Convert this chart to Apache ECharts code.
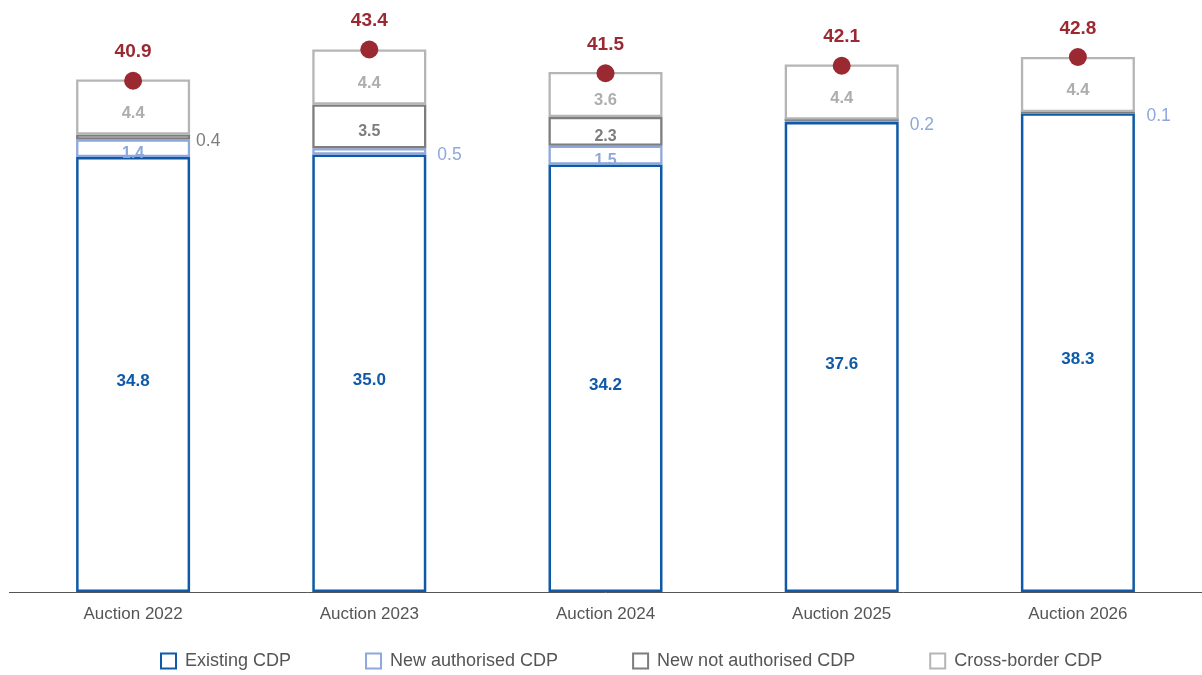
<!DOCTYPE html>
<html>
<head>
<meta charset="utf-8">
<script src="https://cdn.jsdelivr.net/npm/echarts@6/dist/echarts.min.js"></script>
<style>html,body{margin:0;padding:0;background:#fff}#c{width:1202px;height:675px}</style>
</head>
<body>
<div id="c"></div>
<script>
var categories = ['Auction 2022', 'Auction 2023', 'Auction 2024', 'Auction 2025', 'Auction 2026'];
var existing = [34.8, 35.0, 34.2, 37.6, 38.3];
var newAuth = [1.4, 0.5, 1.5, 0.2, 0.1];
var newNotAuth = [0.4, 3.5, 2.3, 0, 0];
var crossBorder = [4.4, 4.4, 3.6, 4.4, 4.4];
var totals = [40.9, 43.4, 41.5, 42.1, 42.8];

var FONT = 'Liberation Sans, Arial, sans-serif';
var C_EX = '#0f5aa8', C_NA = '#8ea7dc', C_NN = '#7d7d7d', C_CB = '#b5b5b5', C_TOT = '#9b2932';

function smallLabelData(vals, color, threshold, dist) {
  return vals.map(function (v) {
    if (v === 0) return { value: v, label: { show: false } };
    if (v < threshold) {
      return { value: v, label: { show: true, position: 'right', distance: dist, offset: [0, 4], color: color, fontWeight: 'normal', fontSize: 17.5 } };
    }
    return { value: v, label: { show: true, position: 'inside', offset: [0, 5], color: color, fontWeight: 'bold', fontSize: 16 } };
  });
}

function barSeries(name, data, color, labelColor, bw, fs, off) {
  return {
    name: name, type: 'bar', stack: 'a', barWidth: 114,
    itemStyle: { color: '#ffffff', borderColor: color, borderWidth: bw || 2.3, opacity: 1 },
    label: { show: true, position: 'inside', offset: [0, off || 6], color: labelColor, fontWeight: 'bold', fontSize: fs || 16.5, fontFamily: FONT,
      formatter: function (p) { return p.value.toFixed(1); } },
    data: data,
    emphasis: { disabled: true }
  };
}

var chart = echarts.init(document.getElementById('c'), null, { renderer: 'canvas' });
chart.setOption({
  animation: false,
  textStyle: { fontFamily: FONT },
  grid: { left: 15, right: 6, top: 17, bottom: 83, containLabel: false },
  xAxis: {
    type: 'category', data: categories,
    axisLine: { show: false },
    axisTick: { show: false },
    axisLabel: { color: '#555555', fontSize: 17, margin: 14, fontFamily: FONT }
  },
  yAxis: { type: 'value', min: 0, max: 46, show: false, splitLine: { show: false } },
  legend: {
    data: ['Existing CDP', 'New authorised CDP', 'New not authorised CDP', 'Cross-border CDP'],
    bottom: 0, left: 155, itemWidth: 15, itemHeight: 15, itemGap: 74,
    icon: 'rect',
    textStyle: { color: '#555555', fontSize: 18, fontFamily: FONT, padding: [0, 0, 0, 4] }
  },
  graphic: [{ type: 'line', shape: { x1: 9, y1: 592.5, x2: 1202, y2: 592.5 }, style: { stroke: '#555555', lineWidth: 1 }, z: 0 }],
  series: [
    barSeries('Existing CDP', existing, C_EX, C_EX, 2.5, 17, 7),
    barSeries('New authorised CDP', smallLabelData(newAuth, C_NA, 1, 11), C_NA, C_NA),
    barSeries('New not authorised CDP', smallLabelData(newNotAuth, C_NN, 1, 6), C_NN, C_NN),
    barSeries('Cross-border CDP', crossBorder, C_CB, '#adadad'),
    {
      name: 'Total', type: 'scatter', symbol: 'circle', symbolSize: 18, z: 10,
      itemStyle: { color: C_TOT, opacity: 1 },
      label: { show: true, position: 'top', distance: 10, color: C_TOT, fontWeight: 'bold', fontSize: 19, fontFamily: FONT,
        formatter: function (p) { return p.value.toFixed(1); } },
      data: totals,
      emphasis: { disabled: true }
    }
  ]
});
</script>
</body>
</html>
